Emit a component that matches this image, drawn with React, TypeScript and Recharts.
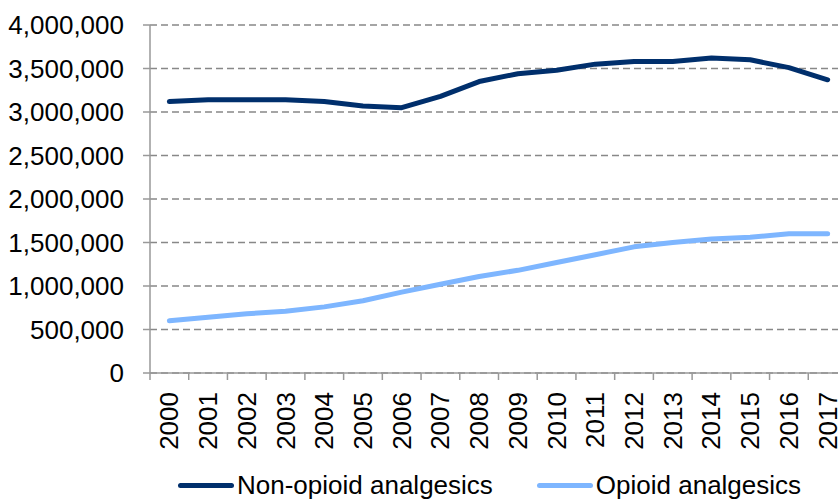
import React from "react";
import { LineChart, Line, XAxis, YAxis, CartesianGrid, Legend } from "recharts";

const years = ["2000","2001","2002","2003","2004","2005","2006","2007","2008","2009","2010","2011","2012","2013","2014","2015","2016","2017"];
const nonOpioid = [3120000,3140000,3140000,3140000,3120000,3070000,3050000,3180000,3350000,3440000,3480000,3550000,3580000,3580000,3620000,3600000,3510000,3370000];
const opioid = [600000,640000,680000,710000,760000,830000,930000,1020000,1110000,1180000,1270000,1360000,1450000,1500000,1540000,1560000,1600000,1600000];
const yTicks = [0,500000,1000000,1500000,2000000,2500000,3000000,3500000,4000000];

const seriesNames = ["Non-opioid analgesics", "Opioid analgesics"];
const colors = ["#002F6C", "#7EB6FF"];

const data = years.map((y, i) => ({ year: y, nonOpioid: nonOpioid[i], opioid: opioid[i] }));

const FONT = "'Liberation Sans', Arial, sans-serif";
const CHART_W = 847;
const Y_W = 150;
const HALF_BAND = (CHART_W - Y_W) / years.length / 2;

const XTick = (props: any) => {
  const { x, y, payload } = props;
  return (
    <g>
      <line x1={x - HALF_BAND} x2={x - HALF_BAND} y1={y - 8} y2={y - 1} stroke="#999" strokeWidth={1.5} />
      <text
        x={x}
        y={y + 11}
        transform={`rotate(-90, ${x}, ${y + 11})`}
        textAnchor="end"
        dominantBaseline="central"
        fontFamily={FONT}
        fontSize={26}
        fill="#000"
      >
        {payload.value}
      </text>
    </g>
  );
};

const LegendContent = () => (
  <div style={{ display: "flex", alignItems: "center", paddingLeft: 178, fontFamily: FONT, fontSize: 26, color: "#000", height: 30 }}>
    {seriesNames.map((n, i) => (
      <div key={n} style={{ display: "flex", alignItems: "center", marginRight: 44 }}>
        <div style={{ width: 56, height: 5, borderRadius: 3, background: colors[i], marginRight: 3 }} />
        <span style={{ lineHeight: "30px", whiteSpace: "nowrap" }}>{n}</span>
      </div>
    ))}
  </div>
);

export default function App() {
  return (
    <div style={{ position: "absolute", left: 0, top: 0, width: 838, height: 500, overflow: "hidden", background: "#fff" }}>
      <LineChart width={CHART_W} height={500} data={data} margin={{ top: 25, right: 0, bottom: 0, left: 0 }}>
        <CartesianGrid horizontal vertical={false} stroke="#888" strokeWidth={1.5} strokeDasharray="7 4" />
        <XAxis
          dataKey="year"
          scale="band"
          interval={0}
          height={97}
          tick={<XTick />}
          tickLine={false}
          axisLine={{ stroke: "#999", strokeWidth: 1.5 }}
        />
        <YAxis
          width={Y_W}
          domain={[0, 4000000]}
          ticks={yTicks}
          interval={0}
          tickFormatter={(v: number) => v.toLocaleString("en-US")}
          tick={{ fontFamily: FONT, fontSize: 26, fill: "#000" }}
          tickSize={7}
          tickMargin={19}
          tickLine={{ stroke: "#999", strokeWidth: 1.5 }}
          axisLine={{ stroke: "#999", strokeWidth: 1.5 }}
        />
        <Legend verticalAlign="bottom" height={30} content={<LegendContent />} />
        <Line dataKey="nonOpioid" name={seriesNames[0]} stroke={colors[0]} strokeWidth={5} dot={false} strokeLinecap="round" strokeLinejoin="round" isAnimationActive={false} />
        <Line dataKey="opioid" name={seriesNames[1]} stroke={colors[1]} strokeWidth={5} dot={false} strokeLinecap="round" strokeLinejoin="round" isAnimationActive={false} />
      </LineChart>
    </div>
  );
}
